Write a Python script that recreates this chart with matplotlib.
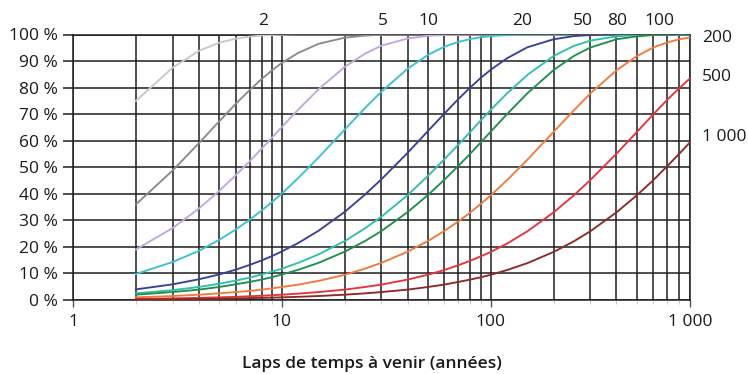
import matplotlib
matplotlib.use("Agg")
import matplotlib.pyplot as plt
import matplotlib.transforms as mtransforms
from matplotlib.ticker import FixedLocator, NullFormatter

plt.rcParams['font.family'] = ['Open Sans', 'DejaVu Sans']

# Years ahead (x) at which values were read
years = [2, 3, 4, 5, 6, 7, 8, 9, 10, 12, 15, 20, 25, 30, 40, 50, 60, 70, 80, 90,
         100, 120, 150, 200, 250, 300, 400, 500, 600, 700, 800, 900]

# Probability (%) of at least one event, per return period
p_2    = [75.0, 87.5, 93.8, 96.9, 98.4, 99.2, 99.6, 99.8, 99.9, 100, 100, 100, 100, 100, 100, 100,
          100, 100, 100, 100, 100, 100, 100, 100, 100, 100, 100, 100, 100, 100, 100, 100]
p_5    = [36.0, 48.8, 59.0, 67.2, 73.8, 79.0, 83.2, 86.6, 89.3, 93.1, 96.5, 98.8, 99.6, 99.9, 100, 100,
          100, 100, 100, 100, 100, 100, 100, 100, 100, 100, 100, 100, 100, 100, 100, 100]
p_10   = [19.0, 27.1, 34.4, 41.0, 46.9, 52.2, 57.0, 61.3, 65.1, 71.8, 79.4, 87.8, 92.8, 95.8, 98.5, 99.5,
          99.8, 99.9, 100, 100, 100, 100, 100, 100, 100, 100, 100, 100, 100, 100, 100, 100]
p_20   = [9.8, 14.3, 18.5, 22.6, 26.5, 30.2, 33.7, 37.0, 40.1, 46.0, 53.7, 64.2, 72.3, 78.5, 87.1, 92.3,
          95.4, 97.2, 98.3, 99.0, 99.4, 99.8, 100, 100, 100, 100, 100, 100, 100, 100, 100, 100]
p_50   = [4.0, 5.9, 7.8, 9.6, 11.4, 13.2, 14.9, 16.6, 18.3, 21.5, 26.1, 33.2, 39.7, 45.5, 55.4, 63.6,
          70.2, 75.7, 80.1, 83.8, 86.7, 91.1, 95.2, 98.2, 99.4, 99.8, 100, 100, 100, 100, 100, 100]
p_80   = [2.5, 3.7, 4.9, 6.1, 7.3, 8.4, 9.6, 10.7, 11.8, 14.0, 17.2, 22.2, 27.0, 31.4, 39.5, 46.7,
          53.0, 58.5, 63.4, 67.8, 71.6, 77.9, 84.8, 91.9, 95.7, 97.7, 99.3, 99.8, 100, 100, 100, 100]
p_100  = [2.0, 3.0, 3.9, 4.9, 5.9, 6.8, 7.7, 8.6, 9.6, 11.4, 14.0, 18.2, 22.2, 26.0, 33.1, 39.5,
          45.3, 50.5, 55.2, 59.5, 63.4, 70.1, 77.9, 86.6, 91.9, 95.1, 98.2, 99.3, 99.8, 99.9, 100, 100]
p_200  = [1.0, 1.5, 2.0, 2.5, 3.0, 3.4, 3.9, 4.4, 4.9, 5.8, 7.2, 9.5, 11.8, 14.0, 18.2, 22.2,
          26.0, 29.6, 33.0, 36.3, 39.4, 45.2, 52.9, 63.3, 71.4, 77.8, 86.5, 91.8, 95.1, 97.0, 98.2, 98.9]
p_500  = [0.4, 0.6, 0.8, 1.0, 1.2, 1.4, 1.6, 1.8, 2.0, 2.4, 3.0, 3.9, 4.9, 5.8, 7.7, 9.5,
          11.3, 13.1, 14.8, 16.5, 18.1, 21.3, 25.9, 33.0, 39.4, 45.2, 55.1, 63.2, 69.9, 75.4, 79.8, 83.5]
p_1000 = [0.2, 0.3, 0.4, 0.5, 0.6, 0.7, 0.8, 0.9, 1.0, 1.2, 1.5, 2.0, 2.5, 3.0, 3.9, 4.9,
          5.8, 6.8, 7.7, 8.6, 9.5, 11.3, 13.9, 18.1, 22.1, 25.9, 33.0, 39.4, 45.1, 50.4, 55.1, 59.4]

series = [p_2, p_5, p_10, p_20, p_50, p_80, p_100, p_200, p_500, p_1000]
colors = ['#c9c9c9', '#8a8a8a', '#c3a6dc', '#38c2cf', '#3b3f9a',
          '#2fc0ad', '#1f8f4e', '#f07a3c', '#e8323a', '#8e2a26']

top_labels = ['2', '5', '10', '20', '50', '80', '100']
top_label_x = [8.15, 30.3, 50.4, 141, 276, 402, 640]
right_labels = ['200', '500', '1 000']
right_label_y = [98.7, 84.0, 61.4]

x_ticks = [1, 10, 100, 900]
x_ticklabels = ['1', '10', '100', '1 000']
y_ticks = list(range(0, 101, 10))
y_ticklabels = [f'{v} %' for v in y_ticks]

fig = plt.figure(figsize=(7.48, 3.74), dpi=100)
ax = fig.add_axes([73/748, 1 - 300/374, 617/748, 265.5/374])

grid_col = '#1e1e1e'
for vals, c in zip(series, colors):
    ax.plot(years, vals, color=c, lw=1.35, zorder=3)

ax.set_xscale('log')
ax.set_xlim(1, 900)
ax.set_ylim(0, 100)

ax.xaxis.set_major_locator(FixedLocator(x_ticks))
ax.set_xticklabels(x_ticklabels)
minor = [m * d for d in (1, 10, 100) for m in range(2, 10)]
ax.xaxis.set_minor_locator(FixedLocator(minor))
ax.xaxis.set_minor_formatter(NullFormatter())
ax.set_yticks(y_ticks)
ax.set_yticklabels(y_ticklabels)

ax.tick_params(axis='x', which='major', length=5, width=1.0, color='#555555',
               pad=5, labelsize=12.5, labelcolor='#1a1a1a')
ax.tick_params(axis='x', which='minor', length=3, width=0.8, color='#cccccc')
ax.tick_params(axis='y', which='major', length=7, width=1.1, color=grid_col,
               pad=4, labelsize=12.5, labelcolor='#1a1a1a')

ax.grid(True, axis='y', which='major', color=grid_col, lw=1.1, zorder=1)
ax.grid(True, axis='x', which='both', color=grid_col, lw=1.1, zorder=1)
ax.set_axisbelow(True)
for s in ax.spines.values():
    s.set_color(grid_col)
    s.set_linewidth(1.1)
    s.set_zorder(1)

# Curve labels
trans_top = mtransforms.blended_transform_factory(ax.transData, ax.transAxes)
for lab, xv in zip(top_labels, top_label_x):
    ax.text(xv, 1.05, lab, transform=trans_top, ha='center', va='center',
            fontsize=12.5, color='#1a1a1a', clip_on=False)
trans_right = mtransforms.blended_transform_factory(ax.transAxes, ax.transData)
for lab, yv in zip(right_labels, right_label_y):
    ax.text(1 + 12/617, yv, lab, transform=trans_right, ha='left', va='center',
            fontsize=12.5, color='#1a1a1a', clip_on=False)

fig.text(372/748, 1 - 364/374, 'Laps de temps à venir (années)', ha='center',
         va='center', fontsize=12.5, fontweight='semibold', color='#1a1a1a')

fig.savefig('out.png', dpi=100)
